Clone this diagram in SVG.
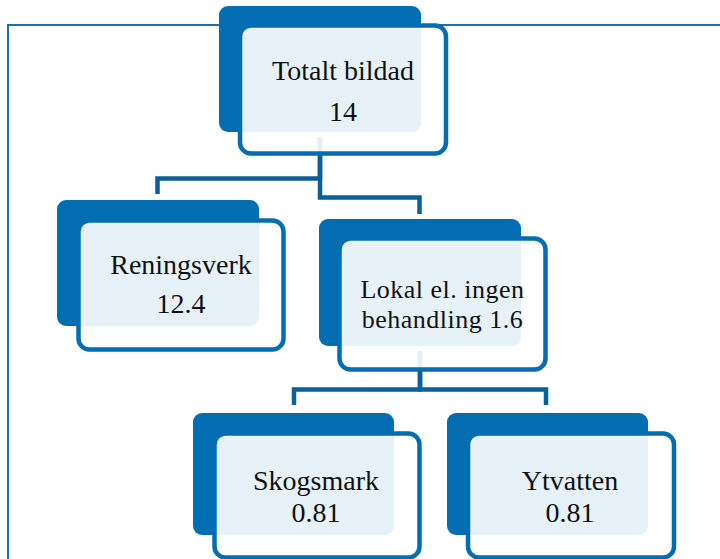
<svg xmlns="http://www.w3.org/2000/svg" width="720" height="559" viewBox="0 0 720 559">
  <defs>
    <style>
      .frame { fill: none; stroke: #1470b3; stroke-width: 2; }
      .conn { fill: none; stroke: #0c5f97; stroke-width: 4.5; stroke-linejoin: miter; }
      .back { fill: #036db2; }
      .front { fill: #ffffff; fill-opacity: 0.9; stroke: #036db2; stroke-width: 4.5; }
      .lbl { font-family: "Liberation Serif", "DejaVu Serif", serif; font-size: 28px; fill: #111111; text-anchor: middle; }
      .tight { font-size: 26px; letter-spacing: 0.5px; }
    </style>
  </defs>
  <rect x="0" y="0" width="720" height="559" fill="#ffffff"/>
  <rect class="frame" x="8" y="25" width="740" height="560"/>

  <g id="connectors">
    <path class="conn" d="M320 137 V178.5 H157.5 V194"/>
    <path class="conn" d="M320 137 V197.5 H419.5 V214"/>
    <path class="conn" d="M420 351 V389.5 H294 V405"/>
    <path class="conn" d="M420 351 V389.5 H546 V405"/>
  </g>

  <g id="node-totalt">
    <rect class="back" x="219" y="6" width="202" height="126" rx="9"/>
    <rect class="front" x="240" y="25.5" width="206" height="128" rx="11"/>
    <text class="lbl" x="343" y="80">Totalt bildad</text>
    <text class="lbl" x="343" y="120.5">14</text>
  </g>

  <g id="node-reningsverk">
    <rect class="back" x="57" y="200" width="202" height="126" rx="9"/>
    <rect class="front" x="78.5" y="220.5" width="205" height="129" rx="11"/>
    <text class="lbl" x="181" y="273.5">Reningsverk</text>
    <text class="lbl" x="181" y="312.5">12.4</text>
  </g>

  <g id="node-lokal">
    <rect class="back" x="319" y="219" width="202" height="127" rx="9"/>
    <rect class="front" x="339.5" y="238.5" width="206" height="131" rx="11"/>
    <text class="lbl tight" x="442.5" y="297.5">Lokal el. ingen</text>
    <text class="lbl tight" x="442.5" y="328">behandling 1.6</text>
  </g>

  <g id="node-skogsmark">
    <rect class="back" x="193" y="413" width="201" height="122" rx="9"/>
    <rect class="front" x="214.5" y="433.5" width="205" height="124" rx="11"/>
    <text class="lbl" x="316" y="489.5">Skogsmark</text>
    <text class="lbl" x="316" y="522">0.81</text>
  </g>

  <g id="node-ytvatten">
    <rect class="back" x="447" y="413" width="201" height="122" rx="9"/>
    <rect class="front" x="468" y="433.5" width="206" height="124" rx="11"/>
    <text class="lbl" x="570" y="489.5">Ytvatten</text>
    <text class="lbl" x="570" y="522">0.81</text>
  </g>
</svg>
